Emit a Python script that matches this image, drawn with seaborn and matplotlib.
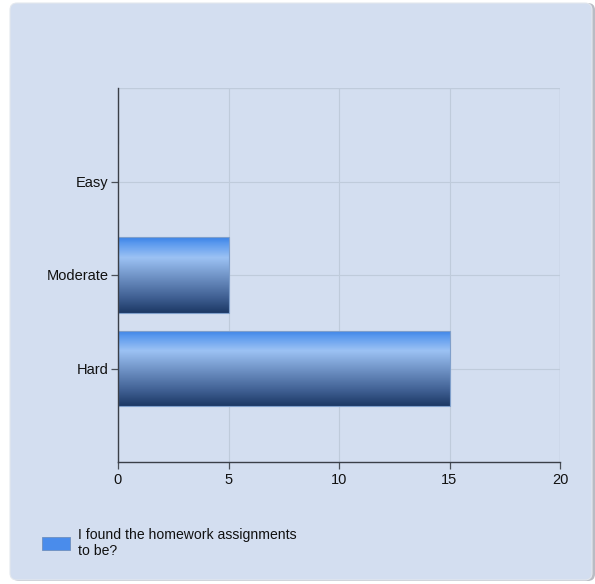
import numpy as np
import pandas as pd
import matplotlib
matplotlib.use("Agg")
import matplotlib.pyplot as plt
import seaborn as sns
from matplotlib.patches import FancyBboxPatch, Rectangle
from matplotlib.colors import LinearSegmentedColormap

categories = ["Easy", "Moderate", "Hard"]
values = [0, 5, 15]
x_ticks = [0, 5, 10, 15, 20]
series_label = "I found the homework assignments\nto be?"

sns.set_style("white")
plt.rcParams["font.family"] = ["Liberation Sans", "DejaVu Sans"]
plt.rcParams["font.size"] = 10.5

W, H = 595, 584
fig = plt.figure(figsize=(W / 100, H / 100), dpi=100)
fig.patch.set_facecolor("white")

bg = "#D3DEF0"
# shadow + panel
shadow = FancyBboxPatch((12 / W, 3 / H), 583 / W, 578 / H,
                        boxstyle="round,pad=0,rounding_size=0.012",
                        transform=fig.transFigure, facecolor="#B8BCC4",
                        edgecolor="none", zorder=-2)
panel = FancyBboxPatch((10 / W, 4 / H), 582 / W, 577 / H,
                       boxstyle="round,pad=0,rounding_size=0.012",
                       transform=fig.transFigure, facecolor=bg,
                       edgecolor="#E4E8EE", linewidth=0.8, zorder=-1)
fig.patches.extend([shadow, panel])

ax = fig.add_axes([118 / W, 1 - 462 / H, (560 - 118) / W, (462 - 88) / H])
ax.set_zorder(2)
ax.set_facecolor(bg)
ax.patch.set_alpha(0)

df = pd.DataFrame({"category": categories, "value": values})
sns.barplot(data=df, x="value", y="category", order=categories, orient="h",
            width=0.81, color="#4A8CEB", ax=ax, zorder=3)

ax.set_xlim(0, 20)
ax.set_ylim(3, -1)
ax.set_xticks(x_ticks)
ax.set_xticklabels([str(t) for t in x_ticks])
ax.set_yticks(range(len(categories)))
ax.set_yticklabels(categories)
ax.set_xlabel("")
ax.set_ylabel("")

grid_c = "#BFCBDB"
ax.grid(True, axis="both", color=grid_c, linewidth=0.8, zorder=0)
ax.axhline(-1, color=grid_c, linewidth=1.0, zorder=1)
ax.axvline(20, color=grid_c, linewidth=1.0, zorder=1)
for s in ["top", "right"]:
    ax.spines[s].set_visible(False)
for s in ["left", "bottom"]:
    ax.spines[s].set_color("#3A3F48")
    ax.spines[s].set_linewidth(1.0)
    ax.spines[s].set_zorder(5)
ax.tick_params(axis="both", bottom=True, left=True, length=5, width=0.9,
               color="#4A4F58", labelsize=10.5, labelcolor="#111111",
               pad=2, direction="out")
ax.tick_params(axis="x", pad=3)

# gradient fill of bars
cmap = LinearSegmentedColormap.from_list(
    "barg", [(0.0, "#3A82E6"), (0.08, "#5A99EE"), (0.27, "#9CC2F4"),
             (0.55, "#6A8DC0"), (0.8, "#3F5F92"), (1.0, "#1C3865")])
grad = np.linspace(0, 1, 256).reshape(-1, 1)
for p in ax.patches:
    w = p.get_width()
    if w <= 0:
        continue
    x0, y0 = p.get_x(), p.get_y()
    h = p.get_height()
    im = ax.imshow(grad, cmap=cmap, aspect="auto",
                   extent=[x0, x0 + w, y0 + h, y0], zorder=4,
                   interpolation="bilinear")
    im.set_clip_path(p)
    p.set_edgecolor("#7F9FCB")
    p.set_linewidth(0.8)
    p.set_zorder(4.5)
    p.set_facecolor("none")
ax.set_xlim(0, 20)
ax.set_ylim(3, -1)

handle = Rectangle((0, 0), 1, 1, facecolor="#4A8CEB", edgecolor="#6E8FBF",
                   linewidth=0.6)
fig.legend([handle], [series_label], loc="center left",
           bbox_to_anchor=(42 / W, 1 - 543 / H), frameon=False,
           borderpad=0, borderaxespad=0, handlelength=2.0, handleheight=1.0,
           handletextpad=0.55, fontsize=10.1, labelcolor="#111111")

fig.savefig("out.png", dpi=100, facecolor=fig.get_facecolor())
